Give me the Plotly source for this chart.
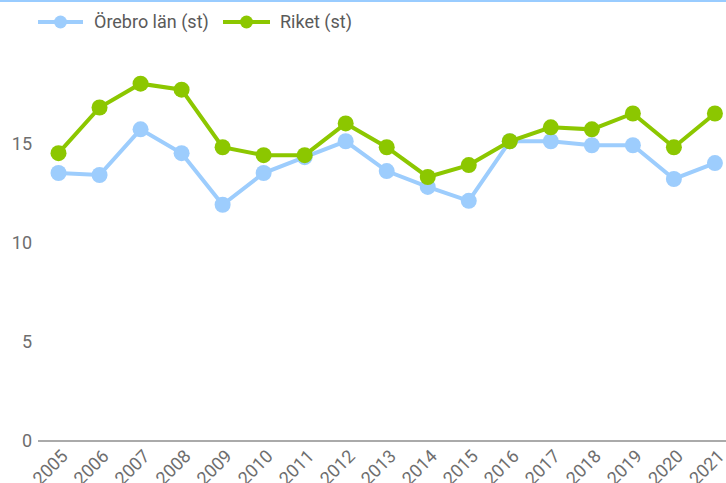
import plotly.graph_objects as go

years = [str(y) for y in range(2005, 2022)]
orebro = [13.5, 13.4, 15.7, 14.5, 11.9, 13.5, 14.3, 15.1, 13.6, 12.8, 12.1, 15.1, 15.1, 14.9, 14.9, 13.2, 14.0]
riket = [14.5, 16.8, 18.0, 17.7, 14.8, 14.4, 14.4, 16.0, 14.8, 13.3, 13.9, 15.1, 15.8, 15.7, 16.5, 14.8, 16.5]
series_names = ["Örebro län (st)", "Riket (st)"]
y_ticks = [0, 5, 10, 15]

BLUE = "#9DCDFD"
GREEN = "#8CC700"
FONT = "Roboto"
TICK_COL = "#6E6E6E"

W, H = 726, 483
ML, MR, MT, MB = 38, 0, 44, 42
PW, PH = W - ML - MR, H - MT - MB


def px(xp):
    return (xp - ML) / PW


def py(yp):
    return (H - MB - yp) / PH


fig = go.Figure()
for name, vals, col in [(series_names[0], orebro, BLUE), (series_names[1], riket, GREEN)]:
    fig.add_trace(go.Scatter(
        x=years, y=vals, name=name, mode="lines+markers",
        line=dict(color=col, width=4), marker=dict(color=col, size=16),
        showlegend=False,
    ))

fig.update_layout(
    width=W, height=H,
    margin=dict(l=ML, r=MR, t=MT, b=MB, autoexpand=False),
    paper_bgcolor="white", plot_bgcolor="white",
    font=dict(family=FONT, color=TICK_COL, size=18),
    xaxis=dict(type="category", range=[-0.5, 16.27], showgrid=False, zeroline=False,
               showline=False, tickangle=-45, ticks="", automargin=False,
               ticklabelshift=4, tickfont=dict(size=18, color=TICK_COL)),
    yaxis=dict(range=[0, 20], tickvals=y_ticks, showgrid=False, zeroline=True,
               zerolinecolor="#AAAAAA", zerolinewidth=2, showline=False, ticks="",
               automargin=False, ticklabelstandoff=5, tickfont=dict(size=18, color=TICK_COL)),
)

# top border line across the whole figure
fig.add_shape(type="line", xref="paper", yref="paper", x0=px(0), x1=px(W),
              y0=py(1), y1=py(1), line=dict(color="#99CCFF", width=2))

# custom legend
legend_items = [(series_names[0], BLUE, 38, 83, 92), (series_names[1], GREEN, 223, 270, 278)]
LY = 22
for name, col, x0, x1, tx in legend_items:
    fig.add_shape(type="line", xref="paper", yref="paper", x0=px(x0), x1=px(x1),
                  y0=py(LY), y1=py(LY), line=dict(color=col, width=4))
    cx = (x0 + x1) / 2
    fig.add_shape(type="circle", xref="paper", yref="paper", x0=px(cx - 6.5), x1=px(cx + 6.5),
                  y0=py(LY + 6.5), y1=py(LY - 6.5), fillcolor=col, line=dict(width=0))
    fig.add_annotation(text=name, xref="paper", yref="paper", x=px(tx), y=py(LY),
                       xanchor="left", yanchor="middle", showarrow=False,
                       font=dict(size=18, color="#5A5A5A", family=FONT))

fig.write_html("out.html", config={"displayModeBar": False},
               post_script="document.body.style.margin='0';")
